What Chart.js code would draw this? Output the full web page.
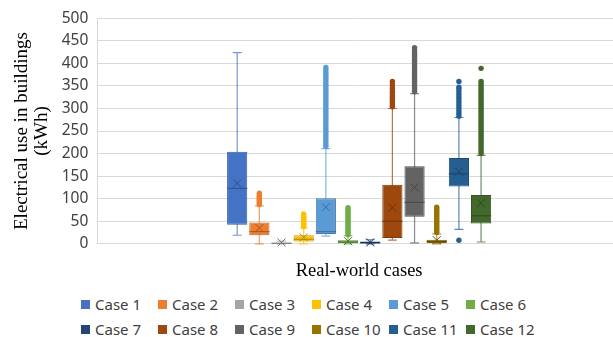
<!DOCTYPE html>
<html>
<head>
<meta charset="utf-8">
<script src="https://cdn.jsdelivr.net/npm/chart.js"></script>
<style>
  body { margin: 0; width: 613px; height: 337px; overflow: hidden; background: #fff; }
  #wrap { position: absolute; left: 0; top: 0; width: 621px; height: 285px; }
  #legend { position: absolute; left: 81px; top: 295px; display: grid; grid-template-columns: repeat(6, 77px); row-gap: 6px; font-family: "Noto Sans", sans-serif; font-size: 15px; color: #404040; }
  #legend div { height: 19px; line-height: 19px; white-space: nowrap; }
  #legend span { display: inline-block; width: 9px; height: 9px; margin-right: 5px; vertical-align: 1px; }
</style>
</head>
<body>
<div id="wrap"><canvas id="boxChart"></canvas></div>
<div id="legend"></div>
<script>
// values (kWh)
const cases = ['Case 1', 'Case 2', 'Case 3', 'Case 4', 'Case 5', 'Case 6',
               'Case 7', 'Case 8', 'Case 9', 'Case 10', 'Case 11', 'Case 12'];
const colors = ['#4472C4', '#ED7D31', '#A5A5A5', '#FFC000', '#5B9BD5', '#70AD47',
                '#264478', '#9E480E', '#636363', '#997300', '#255E91', '#43682B'];
const whiskerLow  = [19, 0, 0, 0, 17, 0, 0, 8, 2, 0, 32, 4];
const q1          = [42, 19, 0, 5, 22, 2, 0, 13, 60, 2, 127, 45];
const medians     = [123, 27, 1, 10, 27, 4, 2, 50, 92, 5, 155, 62];
const means       = [134, 35, 3, 14, 81, 6, 3, 80, 125, 8, 160, 90];
const q3          = [204, 47, 3, 19, 101, 8, 5, 131, 172, 9, 190, 108];
const whiskerHigh = [424, 84, 6, 35, 211, 18, 9, 300, 333, 22, 280, 196];
const outliers = [
  [],
  [87, 90, 93, 96, 99, 102, 105, 108, 112],
  [],
  [38, 41, 44, 47, 50, 53, 56, 59, 62, 66],
  [216, 221, 226, 231, 236, 241, 246, 251, 256, 261, 266, 271, 276, 281, 286, 291, 296, 301, 306,
   311, 316, 321, 326, 331, 336, 341, 346, 351, 356, 361, 366, 371, 376, 381, 386, 391],
  [20, 24, 28, 32, 36, 40, 44, 48, 52, 56, 60, 64, 68, 72, 76, 80],
  [],
  [304, 308, 313, 318, 322, 327, 333, 338, 345, 352, 360],
  [337, 341, 346, 350, 355, 360, 364, 369, 374, 378, 383, 388, 392, 397, 402, 406, 411, 416, 420, 425, 430, 435],
  [25, 29, 33, 37, 41, 45, 49, 53, 57, 61, 65, 69, 73, 77, 81],
  [8, 283, 289, 295, 301, 307, 313, 319, 325, 331, 337, 343, 347, 360],
  [200, 205, 210, 215, 220, 225, 230, 235, 240, 245, 250, 255, 260, 265, 270, 275, 280, 285, 290,
   295, 300, 305, 310, 315, 320, 325, 330, 335, 340, 345, 350, 355, 360, 389]
];
const yTicks = [0, 50, 100, 150, 200, 250, 300, 350, 400, 450, 500];

function shade(hex, f) {
  let n = parseInt(hex.slice(1), 16);
  let r = Math.round(((n >> 16) & 255) * f), g = Math.round(((n >> 8) & 255) * f), b = Math.round((n & 255) * f);
  return `rgb(${r},${g},${b})`;
}
function fade(hex, a) {
  let n = parseInt(hex.slice(1), 16);
  return `rgba(${(n >> 16) & 255},${(n >> 8) & 255},${n & 255},${a})`;
}

// whiskers behind the boxes, median / mean / outliers on top
const boxParts = {
  id: 'boxParts',
  beforeDatasetsDraw(chart) {
    const ctx = chart.ctx, y = chart.scales.y;
    chart.data.datasets.forEach((ds, i) => {
      const bar = chart.getDatasetMeta(i).data[0];
      const cap = bar.width * 0.22;
      ctx.save();
      ctx.strokeStyle = fade(colors[i], 0.75);
      ctx.lineWidth = 1.2;
      ctx.beginPath();
      ctx.moveTo(bar.x, y.getPixelForValue(whiskerHigh[i]));
      ctx.lineTo(bar.x, y.getPixelForValue(whiskerLow[i]));
      [whiskerHigh[i], whiskerLow[i]].forEach(v => {
        ctx.moveTo(bar.x - cap, y.getPixelForValue(v));
        ctx.lineTo(bar.x + cap, y.getPixelForValue(v));
      });
      ctx.stroke();
      ctx.restore();
    });
  },
  afterDatasetsDraw(chart) {
    const ctx = chart.ctx, y = chart.scales.y;
    chart.data.datasets.forEach((ds, i) => {
      const bar = chart.getDatasetMeta(i).data[0];
      const half = bar.width / 2;
      const dark = shade(colors[i], 0.7);
      ctx.save();
      ctx.strokeStyle = dark;
      ctx.lineWidth = 1;
      let my = y.getPixelForValue(medians[i]);
      ctx.beginPath();
      ctx.moveTo(bar.x - half, my);
      ctx.lineTo(bar.x + half, my);
      ctx.stroke();
      let ay = y.getPixelForValue(means[i]), s = 4;
      ctx.beginPath();
      ctx.moveTo(bar.x - s, ay - s); ctx.lineTo(bar.x + s, ay + s);
      ctx.moveTo(bar.x + s, ay - s); ctx.lineTo(bar.x - s, ay + s);
      ctx.stroke();
      ctx.fillStyle = colors[i];
      outliers[i].forEach(v => {
        ctx.beginPath();
        ctx.arc(bar.x, y.getPixelForValue(v), 2.7, 0, Math.PI * 2);
        ctx.fill();
      });
      ctx.restore();
    });
  }
};

const ctx = document.getElementById('boxChart').getContext('2d');
const boxChart = new Chart(ctx, {
  type: 'bar',
  data: {
    labels: [''],
    datasets: cases.map((c, i) => ({
      label: c,
      data: [[q1[i], q3[i]]],
      backgroundColor: colors[i],
      borderColor: shade(colors[i], 0.8),
      borderWidth: 1,
      borderSkipped: false,
      categoryPercentage: 0.508,
      barPercentage: 0.91
    }))
  },
  options: {
    responsive: true,
    maintainAspectRatio: false,
    animation: false,
    layout: { padding: { left: 12, top: 8, right: 0, bottom: 3 } },
    plugins: { legend: { display: false }, tooltip: { enabled: false } },
    scales: {
      x: {
        grid: { display: false },
        border: { display: false },
        ticks: { display: false },
        title: {
          display: true, text: 'Real-world cases', color: '#000',
          font: { family: '"Liberation Serif", serif', size: 18.5 },
          padding: { top: 8, bottom: 0 }
        }
      },
      y: {
        min: 0, max: 500,
        afterBuildTicks: axis => { axis.ticks = yTicks.map(v => ({ value: v })); },
        grid: { color: '#d9d9d9', drawTicks: false },
        border: { display: true, color: '#d9d9d9' },
        ticks: { color: '#404040', padding: 9, font: { family: '"Noto Sans", sans-serif', size: 15.5 } },
        title: {
          display: true, text: ['Electrical use in buildings', '(kWh)'], color: '#000',
          font: { family: '"Liberation Serif", serif', size: 19, lineHeight: 1.07 },
          padding: { top: 0, bottom: 0 }
        }
      }
    }
  },
  plugins: [boxParts]
});

// legend in six fixed columns like the original
const legend = document.getElementById('legend');
cases.forEach((c, i) => {
  const item = document.createElement('div');
  item.innerHTML = `<span style="background:${colors[i]}"></span>${c}`;
  legend.appendChild(item);
});
</script>
</body>
</html>
